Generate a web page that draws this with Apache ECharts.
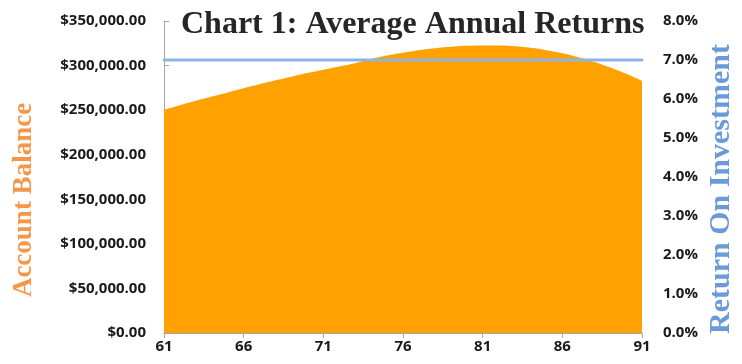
<!DOCTYPE html>
<html>
<head>
<meta charset="utf-8">
<script src="https://cdn.jsdelivr.net/npm/echarts@6/dist/echarts.min.js"></script>
<style>
html, body { margin: 0; padding: 0; background: #fff; }
#main { width: 742px; height: 364px; }
</style>
</head>
<body>
<div id="main"></div>
<script>
// ages on the x axis
var ages = [];
for (var a = 61; a <= 91; a++) ages.push(String(a));

// account balance per age
var balance = [
	250500, 255500, 260400, 265200, 269900, 274500, 279000, 283400, 287600, 291600,
	295400, 299000, 302600, 307300, 311200, 314400, 317200, 319400, 321000, 322100,
	322600, 322600, 321700, 320000, 317300, 313800, 309400, 304100, 297900, 290900,
	283000
];

// return on investment per age
var roi = [];
for (var i = 0; i < ages.length; i++) roi.push(0.07);

var chart = echarts.init(document.getElementById('main'));

var labelFont = {
	fontFamily: 'Open Sans',
	fontWeight: 'bold',
	fontSize: 15,
	color: '#1a1a1a'
};

var option = {
	animation: false,
	title: {
		text: 'Chart 1: Average Annual Returns',
		left: 176,
		top: 4,
		textStyle: {
			fontFamily: 'Liberation Serif',
			fontWeight: 'bold',
			fontSize: 32,
			color: '#262626'
		}
	},
	grid: { left: 164, right: 100, top: 21, bottom: 31 },
	xAxis: {
		type: 'category',
		boundaryGap: false,
		data: ages,
		axisLine: { lineStyle: { color: '#a6a6a6' } },
		axisTick: { interval: 4, length: 5, lineStyle: { color: '#a6a6a6' } },
		axisLabel: Object.assign({ interval: 4, margin: 6 }, labelFont),
		splitLine: { show: false }
	},
	yAxis: [
		{
			type: 'value',
			min: 0, max: 350000, interval: 50000,
			axisLine: { show: true, lineStyle: { color: '#a6a6a6' } },
			axisTick: { show: true, inside: true, length: 5, lineStyle: { color: '#a6a6a6' } },
			axisLabel: Object.assign({
				margin: 18,
				formatter: function (v) {
					return '$' + v.toLocaleString('en-US') + '.00';
				}
			}, labelFont),
			splitLine: { show: false }
		},
		{
			type: 'value',
			min: 0, max: 0.08, interval: 0.01,
			axisLine: { show: false },
			axisTick: { show: false },
			axisLabel: Object.assign({
				margin: 21,
				formatter: function (v) {
					return (v * 100).toFixed(1) + '%';
				}
			}, labelFont),
			splitLine: { show: false }
		}
	],
	graphic: [
		{
			type: 'text',
			x: 24, y: 200,
			rotation: Math.PI / 2,
			style: {
				text: 'Account Balance',
				fill: '#F79646',
				font: 'bold 27px "Liberation Serif"',
				align: 'center',
				verticalAlign: 'middle'
			}
		},
		{
			type: 'text',
			x: 721, y: 189,
			rotation: Math.PI / 2,
			style: {
				text: 'Return On Investment',
				fill: '#6A9AD8',
				font: 'bold 30px "Liberation Serif"',
				align: 'center',
				verticalAlign: 'middle'
			}
		}
	],
	series: [
		{
			name: 'Account Balance',
			type: 'line',
			yAxisIndex: 0,
			data: balance,
			smooth: true,
			symbol: 'none',
			lineStyle: { width: 0 },
			areaStyle: { color: '#FFA100', opacity: 1 },
			z: 1
		},
		{
			name: 'Return On Investment',
			type: 'line',
			yAxisIndex: 1,
			data: roi,
			symbol: 'none',
			lineStyle: { color: '#8DB4E2', width: 3, cap: 'round' },
			z: 2
		}
	]
};

chart.setOption(option);
</script>
</body>
</html>
